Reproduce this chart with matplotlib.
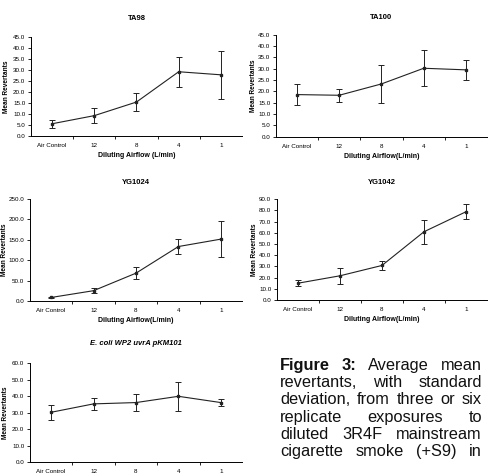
import matplotlib
matplotlib.use("Agg")
import matplotlib.pyplot as plt
from matplotlib import font_manager
from matplotlib.ticker import MultipleLocator, FixedLocator, FormatStrFormatter

# evitar que se elija la variante Narrow de Liberation Sans
font_manager.fontManager.ttflist = [f for f in font_manager.fontManager.ttflist
                                    if 'Narrow' not in f.fname]
plt.rcParams['font.family'] = ['Liberation Sans', 'DejaVu Sans']

# --- datos ---
categorias = ['Air Control', '12', '8', '4', '1']

ta98_media = [5.5, 9.2, 15.4, 29.2, 27.8]
ta98_sd = [1.8, 3.3, 4.2, 6.8, 11.0]

ta100_media = [18.6, 18.3, 23.3, 30.2, 29.5]
ta100_sd = [4.6, 2.9, 8.4, 7.9, 4.3]

yg1024_media = [9.0, 25.6, 68.5, 133.7, 151.8]
yg1024_sd = [1.5, 6.6, 15.0, 18.5, 44.0]

yg1042_media = [15.1, 21.7, 30.9, 60.9, 78.7]
yg1042_sd = [2.7, 7.0, 4.3, 10.8, 6.5]

ecoli_media = [30.3, 35.4, 36.2, 40.0, 36.2]
ecoli_sd = [4.5, 3.6, 5.0, 8.9, 2.0]

# (titulo, medias, sd, ymax, paso, [left, bottom, width, height], pad titulo, etiqueta x, x px etiqueta y)
paneles = [
    ('TA98', ta98_media, ta98_sd, 45, 5, [0.063, 0.714, 0.431, 0.208], 12, 'Diluting Airflow (L/min)', 10),
    ('TA100', ta100_media, ta100_sd, 45, 5, [0.563, 0.712, 0.431, 0.215], 11, 'Diluting Airflow(L/min)', 257),
    ('YG1024', yg1024_media, yg1024_sd, 250, 50, [0.061, 0.366, 0.433, 0.215], 11, 'Diluting Airflow(L/min)', 8),
    ('YG1042', yg1042_media, yg1042_sd, 90, 10, [0.565, 0.368, 0.429, 0.213], 11, 'Diluting Airflow(L/min)', 258),
    ('E. coli WP2 uvrA pKM101', ecoli_media, ecoli_sd, 60, 10, [0.061, 0.027, 0.433, 0.208], 13, None, 9),
]

fig = plt.figure(figsize=(4.9, 4.75), dpi=100)

for titulo, medias, sd, ymax, paso, pos, pad, xlab, ylab_px in paneles:
    ax = fig.add_axes(pos)
    x = list(range(len(categorias)))
    ax.errorbar(x, medias, yerr=sd, color='#222222', lw=0.8, marker='s', ms=2,
                elinewidth=0.7, capsize=2, capthick=0.7)
    ax.set_xlim(-0.5, 4.5)
    ax.set_ylim(0, ymax)
    ax.yaxis.set_major_locator(MultipleLocator(paso))
    ax.yaxis.set_major_formatter(FormatStrFormatter('%.1f'))
    ax.set_xticks(x)
    ax.set_xticklabels(categorias)
    ax.xaxis.set_minor_locator(FixedLocator([0.5, 1.5, 2.5, 3.5]))
    ax.tick_params(axis='x', which='major', length=0, labelsize=4.5, pad=5)
    ax.tick_params(axis='x', which='minor', length=2.5, width=0.6)
    ax.tick_params(axis='y', length=2.5, width=0.6, labelsize=4.5, pad=1.5)
    for lado in ['top', 'right']:
        ax.spines[lado].set_visible(False)
    for lado in ['left', 'bottom']:
        ax.spines[lado].set_linewidth(0.7)
    if titulo.startswith('E. coli'):
        ax.set_title(titulo, fontsize=5.5, fontweight='bold', style='italic', pad=pad)
    else:
        ax.set_title(titulo, fontsize=5.5, fontweight='bold', pad=pad)
    ax.set_ylabel('Mean Revertants', fontsize=4.7, fontweight='bold')
    ax.yaxis.set_label_coords((ylab_px / 490 - pos[0]) / pos[2], 0.5)
    if xlab:
        ax.set_xlabel(xlab, fontsize=5, fontweight='bold', labelpad=3)

# --- pie de figura justificado ---
lineas = [
    [('Figure', 'bold'), ('3:', 'bold'), ('Average', 'normal'), ('mean', 'normal')],
    'revertants, with standard',
    'deviation, from three or six',
    'replicate exposures to',
    'diluted 3R4F mainstream',
    'cigarette smoke (+S9) in',
]
x0, x1 = 280 / 490, 482 / 490
y_base = [370, 387.2, 404.4, 421.6, 438.8, 456]
renderer = fig.canvas.get_renderer()
for linea, ypx in zip(lineas, y_base):
    if isinstance(linea, str):
        palabras = [(p, 'normal') for p in linea.split()]
    else:
        palabras = linea
    textos = []
    for p, peso in palabras:
        t = fig.text(x0, 1 - ypx / 475, p, fontsize=11.8, fontweight=peso,
                     va='baseline', ha='left', color='#111111')
        textos.append(t)
    anchos = [t.get_window_extent(renderer).width / fig.bbox.width for t in textos]
    hueco = (x1 - x0 - sum(anchos)) / (len(textos) - 1)
    xp = x0
    for t, w in zip(textos, anchos):
        t.set_x(xp)
        xp += w + hueco

fig.savefig('out.png', dpi=100)
